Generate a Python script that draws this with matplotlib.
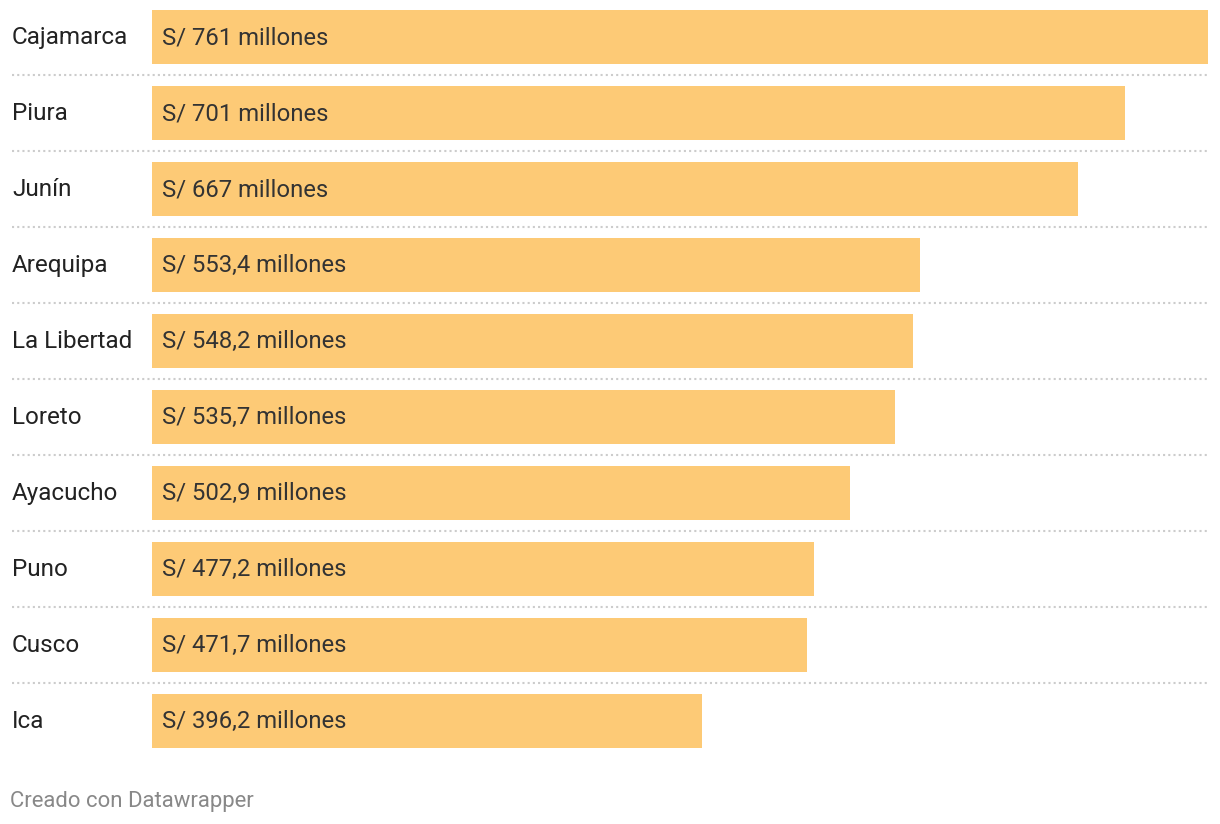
import matplotlib
matplotlib.use("Agg")
import matplotlib.pyplot as plt

regions = ["Cajamarca", "Piura", "Junín", "Arequipa", "La Libertad",
           "Loreto", "Ayacucho", "Puno", "Cusco", "Ica"]
values = [761, 701, 667, 553.4, 548.2, 535.7, 502.9, 477.2, 471.7, 396.2]
value_labels = ["S/ 761 millones", "S/ 701 millones", "S/ 667 millones",
                "S/ 553,4 millones", "S/ 548,2 millones", "S/ 535,7 millones",
                "S/ 502,9 millones", "S/ 477,2 millones", "S/ 471,7 millones",
                "S/ 396,2 millones"]

plt.rcParams['font.family'] = ['Roboto', 'DejaVu Sans']

W, H = 1220, 824
fig = plt.figure(figsize=(W / 100, H / 100), dpi=100)

# axes from x=12px to 1208px, rows spaced 76px
ax = fig.add_axes([12 / W, 1 - 761 / H, (1208 - 12) / W, 760 / H])
px_per_unit = (1208 - 152) / 761
left = -140 / px_per_unit
ax.set_xlim(left, 761)
ax.set_ylim(9.5263, -0.4737)
ax.axis("off")

ypos = list(range(len(regions)))
ax.barh(ypos, values, height=54 / 76, color="#fdca76", left=0)

shift = 2 / 76  # nudge text up a little
for y, name, lab in zip(ypos, regions, value_labels):
    ax.text(left, y - shift, name, ha="left", va="center_baseline", fontsize=17.5, color="#222222")
    ax.text(10 / px_per_unit, y - shift, lab, ha="left", va="center_baseline", fontsize=17.2, color="#333333")

for y in ypos[:-1]:
    ax.hlines(y + 0.5, left, 761, colors="#cccccc", linestyles=(0, (1, 1.5)), linewidth=1.5)

fig.text(10 / W, 1 - 799 / H, "Creado con Datawrapper", ha="left", va="center_baseline",
         fontsize=15.9, color="#888888")

fig.savefig("out.png", dpi=100)
